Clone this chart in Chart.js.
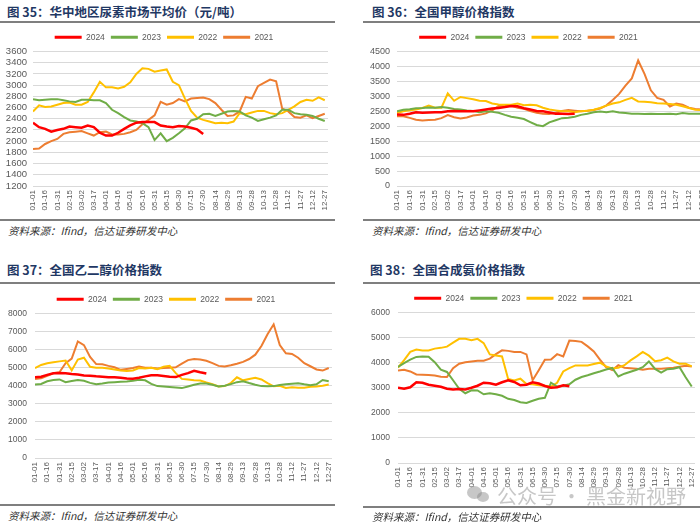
<!DOCTYPE html>
<html>
<head>
<meta charset="utf-8">
<script src="https://cdn.jsdelivr.net/npm/chart.js@4.4.1/dist/chart.umd.min.js"></script>
<style>
  html, body { margin: 0; padding: 0; }
  body { width: 700px; height: 527px; position: relative; overflow: hidden; background: #fff; font-family: 'Noto Sans CJK SC', 'Liberation Sans', sans-serif; }
  .title { position: absolute; font-weight: bold; font-size: 12.5px; color: #1f3864; line-height: 18px; white-space: nowrap; }
  .rule { position: absolute; height: 2px; background: #7f7f7f; }
  .source { position: absolute; font-style: italic; font-size: 10.5px; color: #333; line-height: 14px; white-space: nowrap; }
  .box { position: absolute; }
  .box canvas { display: block; }
  .mark { position: absolute; left: 497px; top: 483px; font-size: 20px; line-height: 26px; color: rgba(130, 130, 130, 0.45); white-space: nowrap; z-index: 5; }
  .dot { position: absolute; border-radius: 50%; background: rgba(130, 130, 130, 0.45); z-index: 5; }
</style>
</head>
<body>
<div class="title" style="left:7px; top:3px">图 35：华中地区尿素市场平均价（元/吨）</div>
<div class="rule" style="left:0; top:21px; width:335px"></div>
<div class="box" style="left:0; top:27px"><canvas id="urea" width="328" height="187"></canvas></div>
<div class="rule" style="left:0; top:219px; width:335px"></div>
<div class="source" style="left:8px; top:224px">资料来源：Ifind，信达证券研发中心</div>

<div class="title" style="left:372px; top:3px">图 36：全国甲醇价格指数</div>
<div class="rule" style="left:363px; top:21px; width:337px"></div>
<div class="box" style="left:352px; top:27px"><canvas id="methanol" width="353" height="187"></canvas></div>
<div class="rule" style="left:363px; top:219px; width:337px"></div>
<div class="source" style="left:372px; top:224px">资料来源：Ifind，信达证券研发中心</div>

<div class="title" style="left:7px; top:261px">图 37：全国乙二醇价格指数</div>
<div class="rule" style="left:0; top:282px; width:335px"></div>
<div class="box" style="left:0; top:289px"><canvas id="glycol" width="332" height="197"></canvas></div>
<div class="rule" style="left:0; top:504px; width:335px"></div>
<div class="source" style="left:8px; top:509px">资料来源：Ifind，信达证券研发中心</div>

<div class="title" style="left:370px; top:261px">图 38：全国合成氨价格指数</div>
<div class="rule" style="left:363px; top:282px; width:337px"></div>
<div class="box" style="left:352px; top:288px"><canvas id="ammonia" width="343" height="203"></canvas></div>
<div class="rule" style="left:363px; top:506px; width:337px"></div>
<div class="source" style="left:372px; top:510px">资料来源：Ifind，信达证券研发中心</div>

<div class="dot" style="left:467px; top:486px; width:15px; height:13px"></div>
<div class="dot" style="left:477px; top:492px; width:12px; height:10px"></div>
<div class="mark">公众号 · 黑金新视野</div>

<script>
const YEARS = ['2024', '2023', '2022', '2021']
const COLORS = ['#ff0000', '#70ad47', '#ffc000', '#ed7d31']
const STEP = 7.5 // days between samples, starting at 01-01

const TICK_LABELS = [
  '01-01', '01-16', '01-31', '02-15', '03-02', '03-17', '04-01', '04-16', '05-01',
  '05-16', '05-31', '06-15', '06-30', '07-15', '07-30', '08-14', '08-29', '09-13',
  '09-28', '10-13', '10-28', '11-12', '11-27', '12-12', '12-27'
]

// 图35 urea, 华中 (yuan/t)
const urea2024 = [2330, 2250, 2220, 2170, 2200, 2220, 2260, 2250, 2240, 2280, 2250, 2150, 2100, 2100, 2150, 2220, 2280, 2330, 2340, 2340, 2340, 2280, 2260, 2250, 2270, 2260, 2240, 2210, 2130]
const urea2023 = [2750, 2730, 2740, 2750, 2750, 2730, 2710, 2700, 2740, 2740, 2730, 2730, 2680, 2560, 2500, 2430, 2370, 2350, 2320, 2250, 2020, 2140, 2000, 2060, 2140, 2230, 2370, 2400, 2480, 2490, 2450, 2490, 2530, 2540, 2530, 2460, 2420, 2360, 2390, 2420, 2460, 2560, 2560, 2500, 2480, 2470, 2450, 2400, 2360]
const urea2022 = [2530, 2640, 2610, 2620, 2650, 2680, 2690, 2650, 2650, 2700, 2870, 3060, 2960, 2960, 2940, 2970, 3050, 3200, 3300, 3290, 3240, 3260, 3280, 3060, 3000, 2760, 2540, 2420, 2380, 2350, 2320, 2330, 2320, 2350, 2500, 2480, 2510, 2540, 2540, 2500, 2480, 2500, 2560, 2620, 2700, 2740, 2720, 2780, 2730]
const urea2021 = [1860, 1870, 1950, 2000, 2040, 2130, 2160, 2170, 2180, 2140, 2100, 2160, 2170, 2120, 2120, 2130, 2160, 2200, 2300, 2380, 2460, 2700, 2650, 2680, 2750, 2710, 2760, 2770, 2780, 2750, 2680, 2560, 2450, 2460, 2530, 2790, 2760, 2980, 3040, 3100, 3070, 2580, 2530, 2430, 2420, 2460, 2410, 2450, 2490]

// 图36 methanol index
const meth2024 = [2390, 2380, 2420, 2470, 2450, 2460, 2470, 2470, 2500, 2510, 2500, 2500, 2500, 2530, 2560, 2590, 2610, 2640, 2680, 2670, 2600, 2560, 2510, 2500, 2460, 2420, 2420, 2410, 2420]
const meth2023 = [2500, 2550, 2570, 2600, 2610, 2630, 2620, 2640, 2620, 2580, 2560, 2530, 2510, 2470, 2500, 2480, 2450, 2380, 2320, 2280, 2240, 2140, 2040, 2000, 2130, 2200, 2270, 2280, 2320, 2380, 2420, 2470, 2490, 2470, 2500, 2460, 2440, 2420, 2420, 2410, 2420, 2410, 2410, 2420, 2400, 2440, 2420, 2420, 2420]
const meth2022 = [2440, 2500, 2530, 2560, 2610, 2690, 2620, 2620, 3100, 2850, 2980, 2940, 2900, 2850, 2840, 2760, 2730, 2720, 2720, 2760, 2700, 2720, 2700, 2620, 2560, 2530, 2500, 2500, 2470, 2500, 2520, 2550, 2610, 2690, 2760, 2800, 2880, 2950, 2830, 2820, 2800, 2770, 2760, 2740, 2720, 2670, 2610, 2550, 2540]
const meth2021 = [2330, 2330, 2280, 2220, 2190, 2210, 2220, 2270, 2370, 2300, 2260, 2290, 2360, 2380, 2430, 2530, 2680, 2690, 2690, 2620, 2580, 2510, 2450, 2420, 2410, 2450, 2510, 2540, 2520, 2500, 2520, 2540, 2590, 2700, 2880, 3080, 3360, 3600, 4200, 3750, 3200, 2950, 2880, 2660, 2760, 2720, 2620, 2580, 2560]

// 图37 ethylene glycol index
const eg2024 = [4470, 4500, 4600, 4690, 4700, 4690, 4650, 4620, 4570, 4550, 4520, 4500, 4470, 4470, 4440, 4400, 4390, 4440, 4520, 4580, 4580, 4540, 4500, 4480, 4600, 4700, 4830, 4750, 4680]
const eg2023 = [4070, 4100, 4250, 4320, 4350, 4200, 4260, 4320, 4280, 4160, 4080, 4120, 4180, 4200, 4220, 4230, 4280, 4330, 4300, 4100, 3980, 3960, 3930, 3900, 3870, 3960, 4050, 4120, 4120, 4050, 3960, 4000, 4090, 4200, 4250, 4150, 4060, 3980, 3970, 3980, 4040, 4080, 4110, 4140, 4080, 4030, 4080, 4320, 4250]
const eg2022 = [4980, 5150, 5250, 5300, 5350, 5400, 4850, 5450, 5550, 5050, 5000, 5000, 4960, 4900, 4840, 4820, 4850, 4980, 4950, 5000, 4920, 5050, 5100, 4700, 4380, 4350, 4300, 4290, 4180, 4080, 3960, 3980, 4150, 4470, 4300, 4370, 4440, 4350, 4150, 3970, 4000, 3880, 3910, 3890, 3890, 3940, 3960, 4000, 4070]
const eg2021 = [4380, 4420, 4550, 4690, 4750, 5250, 5500, 6450, 6250, 5600, 5200, 5190, 5100, 5020, 4880, 4930, 4980, 5060, 5000, 5000, 4950, 4980, 5000, 5020, 5220, 5420, 5480, 5450, 5380, 5250, 5100, 5060, 5130, 5220, 5320, 5480, 5720, 6200, 6850, 7400, 6250, 5800, 5760, 5550, 5250, 5080, 4900, 4840, 4980]

// 图38 synthetic ammonia index
const nh2024 = [3000, 2960, 3020, 3220, 3200, 3120, 3080, 3040, 2960, 2930, 2950, 2930, 3000, 3080, 3200, 3180, 3120, 3220, 3300, 3230, 3100, 3120, 3220, 3170, 3070, 3000, 3020, 3100, 3060]
const nh2023 = [3830, 3980, 4120, 4230, 4250, 4240, 4020, 3720, 3630, 3300, 2960, 2780, 2900, 2890, 2740, 2780, 2740, 2680, 2560, 2510, 2420, 2390, 2480, 2560, 2600, 3200, 3050, 3080, 3140, 3320, 3430, 3500, 3580, 3650, 3730, 3790, 3450, 3560, 3640, 3720, 3820, 4050, 3750, 3600, 3740, 3760, 3820, 3420, 3050]
const nh2022 = [3800, 4100, 4430, 4520, 4490, 4490, 4560, 4590, 4640, 4800, 4950, 4950, 4890, 4950, 4780, 4330, 4290, 4250, 3350, 3290, 3360, 3150, 3140, 3100, 3080, 3050, 3200, 3650, 3780, 3890, 3890, 3890, 3950, 4000, 3850, 3770, 3800, 3900, 4090, 4250, 4430, 4280, 4060, 4100, 4200, 4050, 3960, 3960, 3850]
const nh2021 = [3690, 3720, 3650, 3530, 3520, 3510, 3490, 3440, 3430, 3780, 3960, 4020, 4050, 4080, 4080, 4160, 4340, 4490, 4470, 4430, 4430, 4330, 3300, 3700, 4120, 4130, 4340, 4250, 4880, 4860, 4830, 4650, 4450, 4120, 3820, 3700, 3900, 3800, 3780, 3760, 3720, 3760, 3760, 3760, 3780, 3800, 3840, 3880, 3850]

Chart.defaults.font.family = "'Liberation Sans', Arial, sans-serif"
Chart.defaults.color = '#595959'

function yearChart (id, series, yMin, yMax, yStep, yWidth, tickSize, tickPad) {
  const datasets = series.map((values, k) => ({
    label: YEARS[k],
    data: values.map((v, i) => ({ x: i * STEP, y: v })),
    borderColor: COLORS[k],
    backgroundColor: COLORS[k],
    borderWidth: k === 0 ? 2.5 : 2,
    pointRadius: 0,
    tension: 0
  }))

  return new Chart(document.getElementById(id), {
    type: 'line',
    data: { datasets },
    options: {
      responsive: false,
      animation: false,
      plugins: {
        legend: {
          labels: {
            boxWidth: 27,
            boxHeight: 3,
            padding: 6,
            font: { size: 8.5 },
            generateLabels: chart =>
              Chart.defaults.plugins.legend.labels
                .generateLabels(chart)
                .map(item => ({ ...item, lineWidth: 0 }))
          }
        },
        tooltip: { enabled: false }
      },
      scales: {
        x: {
          type: 'linear',
          min: 0,
          max: 364,
          grid: { display: false, drawTicks: false },
          border: { display: false },
          ticks: {
            stepSize: 15,
            autoSkip: false,
            includeBounds: false,
            minRotation: 90,
            maxRotation: 90,
            padding: 4,
            font: { size: 8 },
            callback: value => TICK_LABELS[value / 15] || ''
          },
          afterFit: scale => {
            scale.height = 28
            scale.paddingLeft = 0
            scale.paddingRight = 0
          }
        },
        y: {
          min: yMin,
          max: yMax,
          grid: { color: '#d9d9d9', drawTicks: false },
          border: { display: false },
          ticks: {
            stepSize: yStep,
            autoSkip: false,
            padding: tickPad,
            font: { size: tickSize },
            callback: value => String(value)
          },
          afterFit: scale => {
            scale.width = yWidth
          }
        }
      }
    }
  })
}

yearChart('urea', [urea2024, urea2023, urea2022, urea2021], 1200, 3600, 200, 33, 9.5, 6)
yearChart('methanol', [meth2024, meth2023, meth2022, meth2021], 0, 4500, 500, 45, 9, 7)
yearChart('glycol', [eg2024, eg2023, eg2022, eg2021], 0, 8000, 1000, 35, 8.5, 8)
yearChart('ammonia', [nh2024, nh2023, nh2022, nh2021], 0, 6000, 1000, 46, 8.5, 8)
</script>
</body>
</html>
